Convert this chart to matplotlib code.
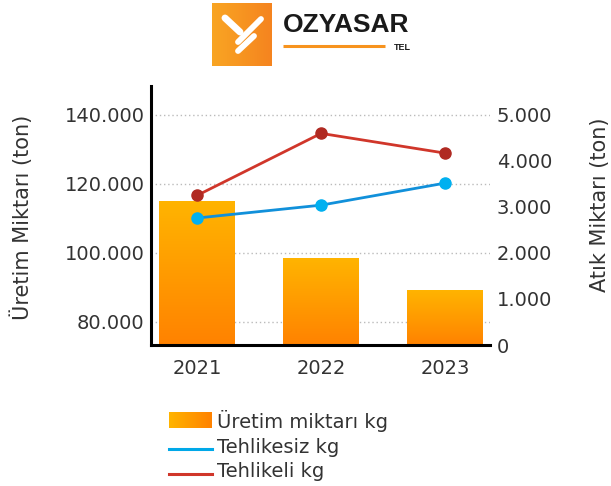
import numpy as np
import matplotlib
matplotlib.use("Agg")
import matplotlib.pyplot as plt
from matplotlib.colors import LinearSegmentedColormap

years = ["2021", "2022", "2023"]
uretim = [115000, 98500, 89000]       # production, left axis (ton)
tehlikesiz = [2760, 3040, 3520]       # non-hazardous waste, right axis
tehlikeli = [3250, 4600, 4170]        # hazardous waste, right axis

left_ticks = [80000, 100000, 120000, 140000]
right_ticks = [0, 1000, 2000, 3000, 4000, 5000]

W, H = 611, 486
plt.rcParams['font.family'] = ['DejaVu Sans']
txt = '#333333'

fig = plt.figure(figsize=(W / 100, H / 100), dpi=100)


def box(x0, y0, x1, y1):
    return [x0 / W, 1 - y1 / H, (x1 - x0) / W, (y1 - y0) / H]


ax = fig.add_axes(box(151, 86, 490, 345))
ax2 = ax.twinx()

orange = LinearSegmentedColormap.from_list('org', ['#FF8200', '#FFB400'])
grad = np.linspace(0, 1, 256).reshape(-1, 1)

ymin, ymax = 73333, 148400
x = np.arange(len(years))
bw = 0.61
for xi, v in zip(x, uretim):
    ax.imshow(grad, cmap=orange, origin='lower', aspect='auto',
              extent=[xi - bw / 2, xi + bw / 2, ymin, v], zorder=2)

ax.set_xlim(-0.37, 2.36)
ax.set_ylim(ymin, ymax)
ax.set_axisbelow(True)
ax.yaxis.grid(True, linestyle=(0, (1, 2)), color='#bbbbbb', lw=1)
ax.set_yticks(left_ticks)
ax.set_yticklabels([f"{v:,.0f}".replace(',', '.') for v in left_ticks])
ax.set_xticks(x)
ax.set_xticklabels(years)
ax.tick_params(axis='y', length=0, pad=4.5, labelsize=14, labelcolor=txt)
ax.tick_params(axis='x', length=0, pad=10, labelsize=14, labelcolor=txt)
for s in ['top', 'right']:
    ax.spines[s].set_visible(False)
for s in ['left', 'bottom']:
    ax.spines[s].set_linewidth(2.2)
    ax.spines[s].set_color('black')

ax2.plot(x, tehlikesiz, color='#1190DA', lw=2, marker='o', ms=8,
         mfc='#00B0F0', mec='#00B0F0', zorder=3)
ax2.plot(x, tehlikeli, color='#D0362A', lw=2, marker='o', ms=8,
         mfc='#B02A22', mec='#B02A22', zorder=3)
ax2.set_ylim(0, 5630)
ax2.set_yticks(right_ticks)
ax2.set_yticklabels([f"{v:,.0f}".replace(',', '.') for v in right_ticks])
ax2.tick_params(axis='y', length=0, pad=5, labelsize=14, labelcolor=txt)
for s in ax2.spines.values():
    s.set_visible(False)

fig.text(22 / W, 1 - 217 / H, "Üretim Miktarı (ton)", rotation=90,
         ha='center', va='center', fontsize=15, color=txt)
fig.text(600 / W, 1 - 205 / H, "Atık Miktarı (ton)", rotation=90,
         ha='center', va='center', fontsize=15, color=txt)

# overlay in pixel coordinates for logo and legend
ov = fig.add_axes([0, 0, 1, 1], zorder=5)
ov.set_xlim(0, W)
ov.set_ylim(H, 0)
ov.axis('off')
ov.patch.set_alpha(0)

# logo
logo_cm = LinearSegmentedColormap.from_list('logo', ['#F9A523', '#F5841F'])
ov.imshow(np.linspace(0, 1, 64).reshape(1, -1), cmap=logo_cm, aspect='auto',
          extent=[212, 272, 66, 3], zorder=1)
for (x0, y0), (x1, y1), w in [((225, 18), (240, 32), 5.0),
                              ((261, 19), (238, 42), 4.2),
                              ((254, 36), (238, 51), 4.2)]:
    ov.plot([x0, x1], [y0, y1], color='white', lw=w, solid_capstyle='round',
            zorder=2)
ov.text(283, 25, "OZYASAR", fontsize=19, fontweight='bold', color='#1a1a1a',
        family='Liberation Sans', ha='left', va='center')
ov.plot([283, 385], [46.5, 46.5], color='#F7931E', lw=2.2, solid_capstyle='butt')
ov.text(402, 47, "TEL", fontsize=6.5, fontweight='bold', color='#1a1a1a',
        family='Liberation Sans', ha='center', va='center')

# legend
ov.imshow(np.linspace(0, 1, 64).reshape(1, -1),
          cmap=LinearSegmentedColormap.from_list('lg', ['#FFB400', '#FF8200']),
          aspect='auto', extent=[169, 212, 428, 412], zorder=1)
ov.plot([169, 212], [449, 449], color='#00A8E8', lw=2.2)
ov.plot([169, 212], [474, 474], color='#D0362A', lw=2.2)
for yy, label in zip([421, 447, 471],
                     ["Üretim miktarı kg", "Tehlikesiz kg", "Tehlikeli kg"]):
    ov.text(217, yy, label, fontsize=14, color=txt, ha='left', va='center')

fig.savefig("out.png", dpi=100)
